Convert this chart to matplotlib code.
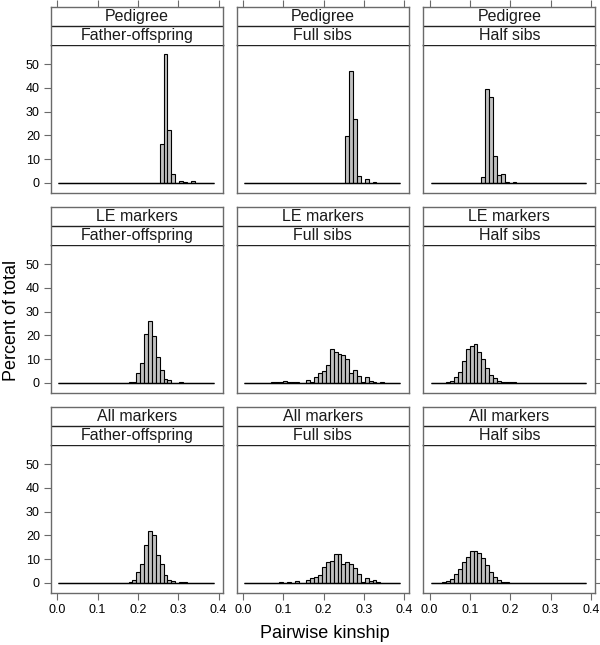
import numpy as np
import matplotlib
matplotlib.use("Agg")
import matplotlib.pyplot as plt

plt.rcParams['font.family'] = ['Liberation Sans', 'DejaVu Sans']

# 40 histogram classes over the kinship range
BIN_START = 0.003
BIN_WIDTH = 0.00965
N_BINS = 40

marker_sets = ["Pedigree", "LE markers", "All markers"]
relationships = ["Father-offspring", "Full sibs", "Half sibs"]
x_ticks = [0.0, 0.1, 0.2, 0.3, 0.4]
x_tick_labels = ["0.0", "0.1", "0.2", "0.3", "0.4"]
y_ticks = [0, 10, 20, 30, 40, 50]

# percent of total per class
ped_fo = [0, 0, 0, 0, 0, 0, 0, 0, 0, 0,
          0, 0, 0, 0, 0, 0, 0, 0, 0, 0,
          0, 0, 0, 0, 0, 0, 16.2, 54.2, 22.5, 3.9,
          0, 0.8, 0.3, 0, 0.7, 0, 0, 0, 0, 0]
ped_fs = [0, 0, 0, 0, 0, 0, 0, 0, 0, 0,
          0, 0, 0, 0, 0, 0, 0, 0, 0, 0,
          0, 0, 0, 0, 0, 0, 19.7, 47.3, 26.8, 3.1,
          0, 1.8, 0, 0.3, 0, 0, 0, 0, 0, 0]
ped_hs = [0, 0, 0, 0, 0, 0, 0, 0, 0, 0,
          0, 0, 0, 2.5, 39.4, 36.1, 11.3, 3.2, 3.9, 0.3,
          0, 0.3, 0, 0, 0, 0, 0, 0, 0, 0,
          0, 0, 0, 0, 0, 0, 0, 0, 0, 0]

le_fo = [0, 0, 0, 0, 0, 0, 0, 0, 0, 0,
         0, 0, 0, 0, 0, 0, 0, 0, 0.3, 0.3,
         4.2, 8.4, 20.6, 25.9, 19.6, 10.9, 5.3, 1.7, 1.1, 0,
         0, 0.3, 0, 0, 0, 0, 0, 0, 0, 0]
le_fs = [0, 0, 0, 0, 0, 0, 0, 0.3, 0.3, 0.3,
         1.0, 0.3, 0.3, 0.3, 0, 0, 1.3, 0.4, 2.4, 4.1,
         5.2, 7.4, 14.1, 13.0, 12.2, 11.9, 10.2, 4.3, 5.5, 2.9,
         0.4, 2.5, 1.0, 0.3, 0, 0.3, 0, 0, 0, 0]
le_hs = [0, 0, 0, 0, 0.3, 0.9, 2.6, 4.5, 9.3, 14.2,
         15.4, 16.3, 13.1, 10.1, 6.2, 3.5, 1.9, 0.8, 0.3, 0.3,
         0.3, 0.3, 0, 0, 0, 0, 0, 0, 0, 0,
         0, 0, 0, 0, 0, 0, 0, 0, 0, 0]

all_fo = [0, 0, 0, 0, 0, 0, 0, 0, 0, 0,
          0, 0, 0, 0, 0, 0, 0, 0, 0.3, 1.4,
          4.7, 7.8, 16.1, 21.7, 20.0, 11.7, 8.1, 3.2, 1.4, 0.7,
          0, 0.3, 0.3, 0, 0, 0, 0, 0, 0, 0]
all_fs = [0, 0, 0, 0, 0, 0, 0, 0, 0, 0.4,
          0, 0.4, 0, 0.8, 0, 0, 1.2, 2.1, 2.5, 3.5,
          6.7, 8.6, 9.4, 12.2, 12.2, 8.1, 8.9, 7.8, 6.1, 3.9,
          0.3, 2.1, 0.8, 1.4, 0.4, 0, 0, 0, 0, 0]
all_hs = [0, 0, 0, 0.3, 0.8, 1.7, 3.6, 5.8, 8.6, 11.1,
          13.6, 13.6, 12.5, 10.3, 7.5, 4.4, 2.5, 1.4, 0.4, 0.4,
          0, 0, 0, 0, 0, 0, 0, 0, 0, 0,
          0, 0, 0, 0, 0, 0, 0, 0, 0, 0]

panel_data = [[ped_fo, ped_fs, ped_hs],
              [le_fo, le_fs, le_hs],
              [all_fo, all_fs, all_hs]]

edges = BIN_START + BIN_WIDTH * np.arange(N_BINS + 1)

# --------------------------
# layout (pixels of a 600x645 figure)
# --------------------------
W, H = 600, 645
fig = plt.figure(figsize=(W / 100, H / 100), dpi=100)

col_left = [51, 236.7, 423.3]
col_width = 172
row_top = [6.7, 206.7, 406.7]   # top of the strips
strip_h = 19.3
plot_h = 147.3

FRAME = "#6a6a6a"
XLIM = (-0.0156, 0.411)
YLIM = (-4.1, 58)


def fx(px):
    return px / W


def fy(py):
    return 1 - py / H


for r in range(3):
    for c in range(3):
        x0 = col_left[c]
        top = row_top[r]
        plot_top = top + 2 * strip_h

        # plot area
        ax = fig.add_axes([fx(x0), fy(plot_top + plot_h), col_width / W, plot_h / H])
        ax.bar(edges[:-1], panel_data[r][c], width=BIN_WIDTH, align="edge",
               color="#c0c0c0", edgecolor="black", linewidth=0.8)
        # empty classes show as a flat line along zero
        ax.hlines(0, edges[0], edges[-1], color="black", linewidth=1.0)
        ax.set_xlim(XLIM)
        ax.set_ylim(YLIM)
        for sp in ax.spines.values():
            sp.set_color(FRAME)
            sp.set_linewidth(1.0)
        ax.spines["top"].set_color("#222222")

        ax.tick_params(axis="both", direction="out", length=5, width=0.8,
                       color=FRAME, labelsize=9, pad=3)
        if r == 2:
            ax.set_xticks(x_ticks)
            ax.set_xticklabels(x_tick_labels)
        else:
            ax.set_xticks([])
        if c == 0:
            ax.set_yticks(y_ticks)
            ax.set_yticklabels([str(v) for v in y_ticks])
        elif c == 2:
            ax.set_yticks(y_ticks)
            ax.yaxis.tick_right()
            ax.tick_params(axis="y", labelright=False)
        else:
            ax.set_yticks([])

        # strips
        sax = fig.add_axes([fx(x0), fy(top + 2 * strip_h), col_width / W, 2 * strip_h / H])
        sax.set_xlim(XLIM)
        sax.set_ylim(0, 2)
        sax.axhline(1, color="#222222", linewidth=1.0)
        sax.text(0.5, 0.75, marker_sets[r], transform=sax.transAxes,
                 ha="center", va="center", fontsize=11.5, color="#1a1a1a")
        sax.text(0.5, 0.25, relationships[c], transform=sax.transAxes,
                 ha="center", va="center", fontsize=11.5, color="#1a1a1a")
        for sp in sax.spines.values():
            sp.set_color(FRAME)
            sp.set_linewidth(1.0)
        sax.spines["bottom"].set_visible(False)
        sax.set_yticks([])
        if r == 0:
            sax.set_xticks(x_ticks)
            sax.xaxis.tick_top()
            sax.tick_params(axis="x", direction="out", length=5, width=0.8,
                            color=FRAME, labeltop=False)
        else:
            sax.set_xticks([])

fig.text(fx(325), fy(633), "Pairwise kinship", ha="center", va="center", fontsize=13)
fig.text(fx(12), fy(320), "Percent of total", ha="center", va="center",
         rotation=90, fontsize=13)

fig.savefig("out.png", dpi=100)
